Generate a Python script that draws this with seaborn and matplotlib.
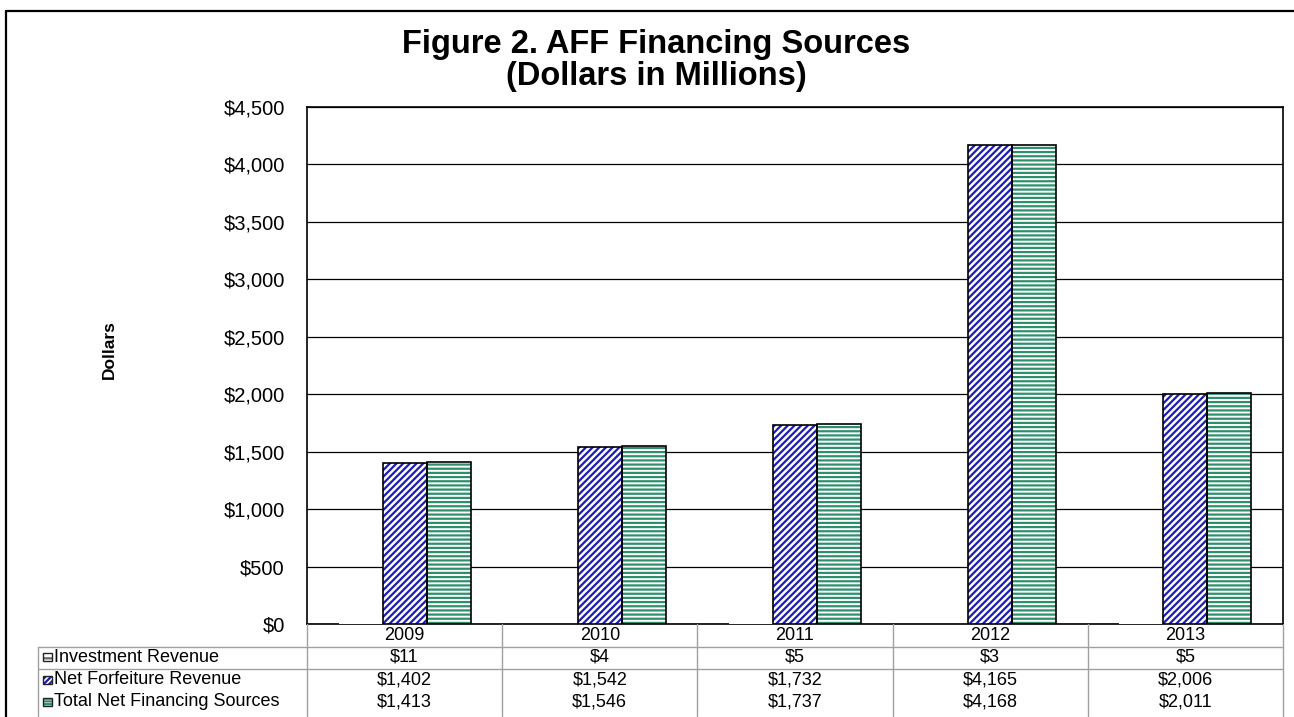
import matplotlib
matplotlib.use("Agg")
import matplotlib.pyplot as plt
import matplotlib.transforms as mtransforms
from matplotlib.patches import Rectangle
from matplotlib.lines import Line2D
from matplotlib.ticker import FuncFormatter
import seaborn as sns
import pandas as pd

# ---- data ----
years = ["2009", "2010", "2011", "2012", "2013"]
series_names = ["Investment Revenue", "Net Forfeiture Revenue", "Total Net Financing Sources"]
investment = [11, 4, 5, 3, 5]
net_forfeiture = [1402, 1542, 1732, 4165, 2006]
total = [1413, 1546, 1737, 4168, 2011]
y_ticks = [0, 500, 1000, 1500, 2000, 2500, 3000, 3500, 4000, 4500]

rows = []
for name, vals in zip(series_names, [investment, net_forfeiture, total]):
    for y, v in zip(years, vals):
        rows.append({"Year": y, "Series": name, "Value": v})
df = pd.DataFrame(rows)

sns.set_theme(style="white")
plt.rcParams["font.family"] = ["Liberation Sans", "DejaVu Sans"]
plt.rcParams["hatch.linewidth"] = 1.6
plt.rcParams["text.color"] = "black"
plt.rcParams["axes.labelcolor"] = "black"
plt.rcParams["ytick.color"] = "black"
plt.rcParams["xtick.color"] = "black"

W, H = 1294, 717
fig = plt.figure(figsize=(W / 100, H / 100), dpi=100)
fig.patch.set_facecolor("white")
ax = fig.add_axes([307 / W, 1 - 624 / H, (1283 - 307) / W, (624 - 107) / H])

hatch_colors = ["#666666", "#1c1cb4", "#2e8f6c"]
hatches = ["", "/////", "----"]
outline = ["#666666", "black", "black"]
outline_lw = [0.0, 1.2, 1.2]
sns.barplot(data=df, x="Year", y="Value", hue="Series", order=years, hue_order=series_names,
            palette=["white", "white", "white"], width=0.676, gap=0, legend=False,
            saturation=1, ax=ax, zorder=3)

for cont, hc, hp, oc, olw in zip(ax.containers, hatch_colors, hatches, outline, outline_lw):
    for p in cont.patches:
        p.set_facecolor("white")
        p.set_hatch(hp)
        p.set_edgecolor(hc)
        p.set_linewidth(0)
        if olw > 0:
            ax.add_patch(Rectangle(p.get_xy(), p.get_width(), p.get_height(), fill=False,
                                   edgecolor=oc, linewidth=olw, zorder=4))

ax.set_ylim(0, 4500)
ax.set_xlim(-0.5, len(years) - 0.5)
ax.set_yticks(y_ticks)
ax.yaxis.set_major_formatter(FuncFormatter(lambda v, _: f"${v:,.0f}"))
ax.tick_params(axis="y", length=0, pad=16, labelsize=14.5, colors="black")
ax.set_xticks([])
ax.set_xlabel("")
ax.set_ylabel("Dollars", fontsize=12.5, fontweight="bold", color="black")
ax.yaxis.set_label_coords((117 - 307) / (1283 - 307), (624 - 350) / (624 - 107))
ax.yaxis.grid(True, color="black", linewidth=0.9, zorder=0)
ax.set_axisbelow(True)
for s in ax.spines.values():
    s.set_visible(True)
    s.set_color("black")
    s.set_linewidth(1.2)

# ---- title ----
fig.text(656 / W, 1 - 45 / H, "Figure 2. AFF Financing Sources", ha="center", va="center",
         fontsize=23.5, fontweight="bold", color="black")
fig.text(656 / W, 1 - 77 / H, "(Dollars in Millions)", ha="center", va="center",
         fontsize=23.5, fontweight="bold", color="black")

# ---- data table ----
tr = mtransforms.blended_transform_factory(ax.transData, fig.transFigure)
grid_c = "#a0a0a0"
y_bottom = 1 - 624 / H
y_end = 1 - 716 / H
for i in range(len(years) + 1):
    fig.add_artist(Line2D([i - 0.5, i - 0.5], [y_bottom, y_end], transform=tr,
                          color=grid_c, linewidth=1))
for ypx in [647, 669]:
    fig.add_artist(Line2D([38 / W, 1283 / W], [1 - ypx / H, 1 - ypx / H],
                          transform=fig.transFigure, color=grid_c, linewidth=1))
fig.add_artist(Line2D([38 / W, 38 / W], [1 - 647 / H, y_end],
                      transform=fig.transFigure, color=grid_c, linewidth=1))

for i, y in enumerate(years):
    fig.text(i, 1 - 636 / H, y, transform=tr, ha="center", va="center", fontsize=13)

row_y = [657, 680, 702]
for name, vals, ypx, hc, hp in zip(series_names, [investment, net_forfeiture, total],
                                   row_y, hatch_colors, ["-", "//////", "------"]):
    yf = 1 - ypx / H
    icon = Rectangle((43 / W, yf - 4 / H), 9 / W, 8 / H, transform=fig.transFigure,
                     facecolor="white", edgecolor=hc, hatch=hp, linewidth=0)
    fig.add_artist(icon)
    fig.add_artist(Rectangle((43 / W, yf - 4 / H), 9 / W, 8 / H, transform=fig.transFigure,
                             fill=False, edgecolor="#222222", linewidth=1.0))
    fig.text(54 / W, yf, name, ha="left", va="center", fontsize=13)
    for i, v in enumerate(vals):
        fig.text(i, yf, f"${v:,.0f}", transform=tr, ha="center", va="center", fontsize=13)

# ---- outer frame ----
fig.add_artist(Line2D([6 / W, 6 / W], [1 - 11 / H, 0], transform=fig.transFigure,
                      color="black", linewidth=1.6))
fig.add_artist(Line2D([6 / W, 1], [1 - 11 / H, 1 - 11 / H], transform=fig.transFigure,
                      color="black", linewidth=1.6))

fig.savefig("out.png", dpi=100, facecolor="white")
